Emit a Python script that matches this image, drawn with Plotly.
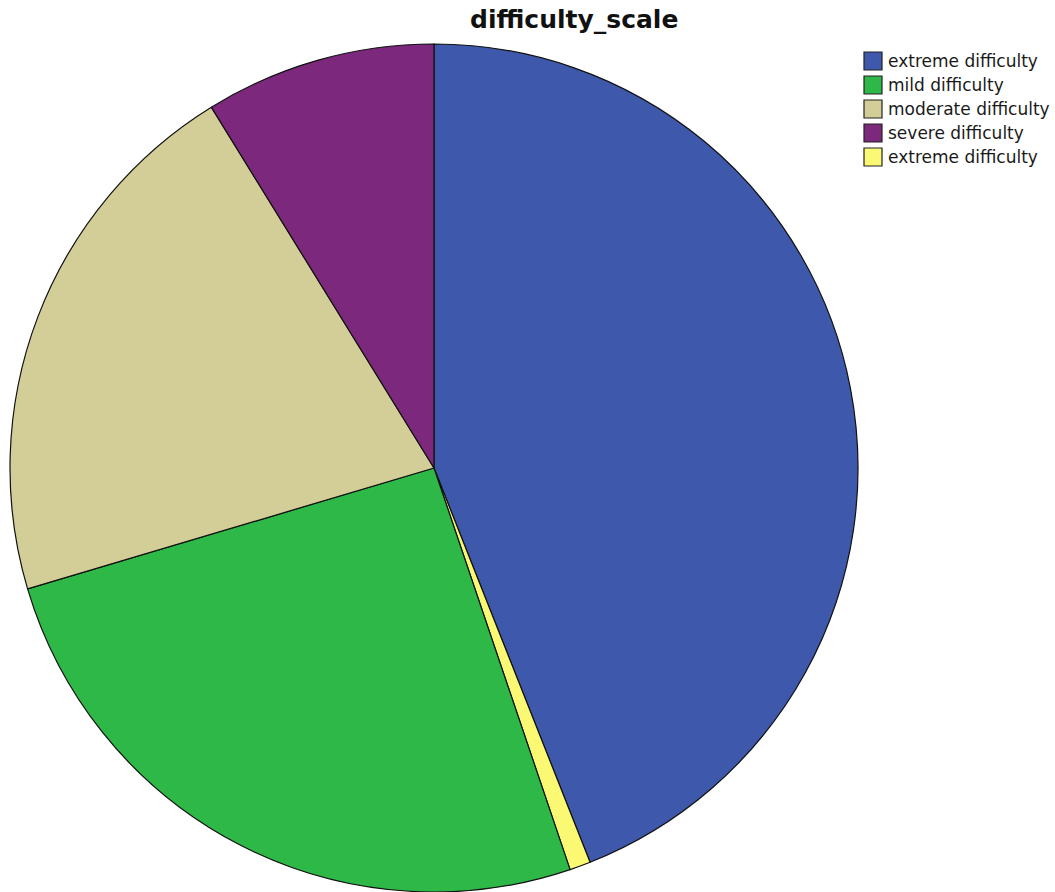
import plotly.graph_objects as go

# Frequencies of difficulty_scale (legend order)
categories = ["extreme difficulty", "mild difficulty", "moderate difficulty",
              "severe difficulty", "extreme difficulty"]
counts = [55, 32, 26, 11, 1]
colors = ["#3E58AC", "#2EB848", "#D3CE97", "#7C287D", "#FBF873"]
# clockwise order of slices starting at 12 o'clock
slice_order = [0, 4, 1, 2, 3]

W, H = 1055, 892
L, R, T, B = 10, 0, 44, 0
PW, PH = W - L - R, H - T - B


def px_x(x):
    return (x - L) / PW


def px_y(y):
    return 1 - (y - T) / PH


fig = go.Figure()
fig.add_trace(go.Pie(
    labels=[str(i) for i in slice_order],
    values=[counts[i] for i in slice_order],
    hovertext=[categories[i] for i in slice_order],
    hoverinfo="text+value+percent",
    marker=dict(colors=[colors[i] for i in slice_order],
                line=dict(color="#111111", width=1.2)),
    sort=False,
    direction="clockwise",
    rotation=0,
    textinfo="none",
    showlegend=False,
    domain=dict(x=[0, PH / PW], y=[0, 1]),
))

# legend drawn as swatches + labels
shapes = []
annotations = []
row0, step, sw = 61, 24, 18
for k, (name, col) in enumerate(zip(categories, colors)):
    cy = row0 + k * step
    shapes.append(dict(type="rect", xref="paper", yref="paper",
                       x0=px_x(864), x1=px_x(864 + sw),
                       y0=px_y(cy - sw / 2), y1=px_y(cy + sw / 2),
                       fillcolor=col, line=dict(color="#222222", width=1.2)))
    annotations.append(dict(text=name, xref="paper", yref="paper",
                            x=px_x(886), y=px_y(cy), xanchor="left", yanchor="middle",
                            showarrow=False,
                            font=dict(family="DejaVu Sans", size=17, color="#1a1a1a")))

annotations.append(dict(text="<b>difficulty_scale</b>", xref="paper", yref="paper",
                        x=px_x(574), y=px_y(20), xanchor="center", yanchor="middle",
                        showarrow=False,
                        font=dict(family="DejaVu Sans", size=25, color="#111111")))

fig.update_layout(
    width=W, height=H,
    margin=dict(l=L, r=R, t=T, b=B, pad=0),
    paper_bgcolor="white", plot_bgcolor="white",
    shapes=shapes, annotations=annotations,
)

fig.write_html("out.html")
